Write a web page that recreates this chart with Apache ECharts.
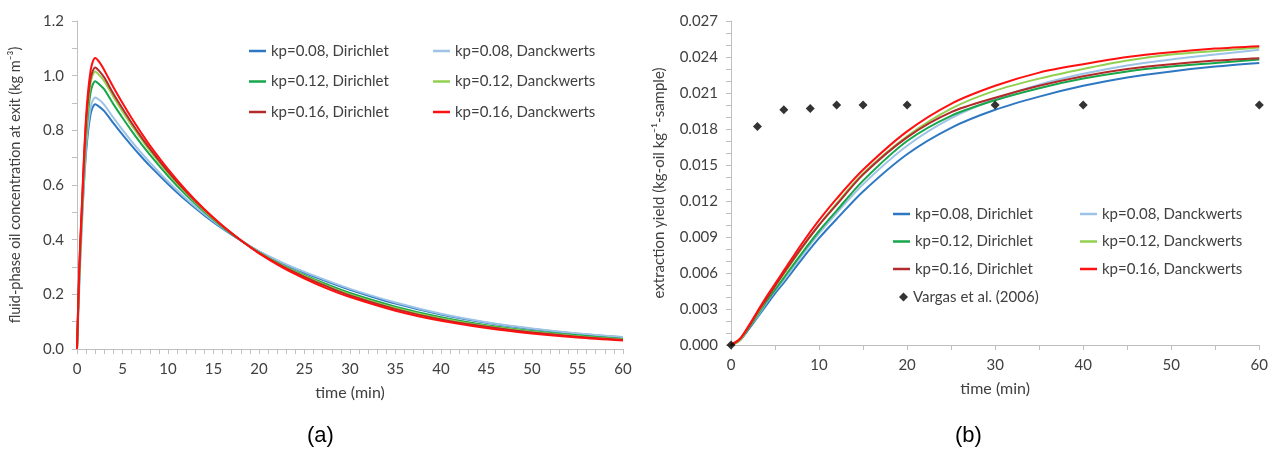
<!DOCTYPE html>
<html>
<head>
<meta charset="utf-8">
<script src="https://cdn.jsdelivr.net/npm/echarts@6/dist/echarts.min.js"></script>
<style>
html,body{margin:0;padding:0;background:#fff;}
#chart{width:1271px;height:453px;}
</style>
</head>
<body>
<div id="chart"></div>
<script>
// ---------- Panel (a): fluid-phase oil concentration at exit ----------
const timeA = [0, 0.25, 0.5, 1, 1.5, 2, 2.5, 3, 4, 5, 6, 7, 8, 10, 12, 14, 16, 18, 20, 22.5, 25, 27.5, 30, 35, 40, 45, 50, 55, 60];
const a_kp008_D  = [0, 0.25, 0.45, 0.72, 0.86, 0.895, 0.885, 0.87, 0.826, 0.784, 0.744, 0.706, 0.670, 0.604, 0.543, 0.489, 0.440, 0.397, 0.357, 0.315, 0.279, 0.247, 0.217, 0.166, 0.126, 0.096, 0.073, 0.056, 0.043];
const a_kp008_Dk = [0, 0.22, 0.42, 0.74, 0.885, 0.92, 0.91, 0.893, 0.846, 0.802, 0.760, 0.720, 0.683, 0.613, 0.550, 0.494, 0.443, 0.398, 0.357, 0.317, 0.282, 0.250, 0.220, 0.170, 0.129, 0.098, 0.075, 0.057, 0.044];
const a_kp012_D  = [0, 0.27, 0.47, 0.78, 0.94, 0.98, 0.967, 0.95, 0.896, 0.846, 0.798, 0.753, 0.711, 0.633, 0.563, 0.501, 0.446, 0.397, 0.354, 0.308, 0.270, 0.236, 0.205, 0.155, 0.116, 0.087, 0.066, 0.050, 0.037];
const a_kp012_Dk = [0, 0.26, 0.46, 0.80, 0.975, 1.015, 1.0, 0.98, 0.923, 0.869, 0.819, 0.771, 0.726, 0.644, 0.571, 0.506, 0.449, 0.398, 0.353, 0.306, 0.267, 0.231, 0.200, 0.150, 0.112, 0.084, 0.063, 0.047, 0.035];
const a_kp016_D  = [0, 0.29, 0.49, 0.83, 0.99, 1.03, 1.015, 0.993, 0.934, 0.880, 0.828, 0.779, 0.733, 0.649, 0.575, 0.509, 0.450, 0.398, 0.352, 0.304, 0.264, 0.228, 0.196, 0.146, 0.108, 0.081, 0.060, 0.045, 0.033];
const a_kp016_Dk = [0, 0.30, 0.50, 0.85, 1.02, 1.065, 1.048, 1.02, 0.958, 0.900, 0.845, 0.794, 0.745, 0.658, 0.580, 0.511, 0.451, 0.398, 0.350, 0.300, 0.258, 0.221, 0.190, 0.140, 0.103, 0.077, 0.057, 0.042, 0.031];

// ---------- Panel (b): extraction yield ----------
const timeB = [0, 1, 2, 3, 4, 5, 6, 8, 10, 12, 15, 20, 25, 30, 35, 40, 45, 50, 55, 60];
const b_kp008_D  = [0, 0.0004, 0.0013, 0.0023, 0.0033, 0.0043, 0.0052, 0.0071, 0.0089, 0.0105, 0.0128, 0.0159, 0.0181, 0.0196, 0.0207, 0.0216, 0.0223, 0.0228, 0.0232, 0.0235];
const b_kp008_Dk = [0, 0.0004, 0.0014, 0.0024, 0.0035, 0.0045, 0.0054, 0.0074, 0.0093, 0.0110, 0.0134, 0.0166, 0.0189, 0.0205, 0.0217, 0.0226, 0.0233, 0.0238, 0.0242, 0.0246];
const b_kp012_D  = [0, 0.0004, 0.0014, 0.0025, 0.0036, 0.0046, 0.0056, 0.0076, 0.0095, 0.0112, 0.0137, 0.0170, 0.0191, 0.0204, 0.0214, 0.0222, 0.0228, 0.0232, 0.0235, 0.0238];
const b_kp012_Dk = [0, 0.0004, 0.0015, 0.0026, 0.0038, 0.0049, 0.0059, 0.0080, 0.0100, 0.0118, 0.0143, 0.0174, 0.0197, 0.0212, 0.0222, 0.0230, 0.0237, 0.0242, 0.0245, 0.0248];
const b_kp016_D  = [0, 0.0005, 0.0015, 0.0027, 0.0038, 0.0049, 0.0060, 0.0081, 0.0100, 0.0117, 0.0142, 0.0173, 0.0194, 0.0206, 0.0216, 0.0224, 0.0230, 0.0234, 0.0237, 0.0239];
const b_kp016_Dk = [0, 0.0005, 0.0016, 0.0028, 0.0040, 0.0051, 0.0062, 0.0084, 0.0104, 0.0122, 0.0146, 0.0178, 0.0201, 0.0216, 0.0227, 0.0234, 0.0240, 0.0244, 0.0247, 0.0249];
const vargasTime  = [0, 3, 6, 9, 12, 15, 20, 30, 40, 60];
const vargasYield = [0, 0.0182, 0.0196, 0.0197, 0.0200, 0.0200, 0.0200, 0.0200, 0.0200, 0.0200];

const seriesNames = ['kp=0.08, Dirichlet', 'kp=0.08, Danckwerts', 'kp=0.12, Dirichlet', 'kp=0.12, Danckwerts', 'kp=0.16, Dirichlet', 'kp=0.16, Danckwerts'];
const vargasName = 'Vargas et al. (2006)';
const colors = ['#2E78C2', '#9DC3E6', '#17A64A', '#92D050', '#B22A2A', '#FF1010'];

const aData = [a_kp008_D, a_kp008_Dk, a_kp012_D, a_kp012_Dk, a_kp016_D, a_kp016_Dk];
const bData = [b_kp008_D, b_kp008_Dk, b_kp012_D, b_kp012_Dk, b_kp016_D, b_kp016_Dk];

const FONT = 'Lato';
const txt = '#404040';
const axisGrey = '#BFBFBF';

function pairs(xs, ys) { return xs.map((x, i) => [x, ys[i]]); }

const series = [];
aData.forEach((d, i) => {
  series.push({
    name: seriesNames[i], type: 'line', xAxisIndex: 0, yAxisIndex: 0,
    data: pairs(timeA, d), symbol: 'none', smooth: 0.3,
    lineStyle: { color: colors[i], width: 2 }, itemStyle: { color: colors[i] }, z: 2 + i
  });
});
bData.forEach((d, i) => {
  series.push({
    name: seriesNames[i], type: 'line', xAxisIndex: 1, yAxisIndex: 1,
    data: pairs(timeB, d), symbol: 'none', smooth: 0.3,
    lineStyle: { color: colors[i], width: 2 }, itemStyle: { color: colors[i] }, z: 2 + i
  });
});
series.push({
  name: vargasName, type: 'scatter', xAxisIndex: 1, yAxisIndex: 1,
  data: pairs(vargasTime, vargasYield), symbol: 'diamond', symbolSize: 9,
  itemStyle: { color: '#000' }, z: 20
});

function legendCol(names, left, top, gap) {
  return {
    data: names, left: left, top: top, orient: 'vertical',
    icon: 'rect', itemWidth: 17, itemHeight: 2.5, itemGap: gap,
    textStyle: { fontFamily: FONT, fontSize: 15, lineHeight: 15, color: txt },
    selectedMode: false
  };
}

const option = {
  animation: false,
  backgroundColor: '#fff',
  grid: [
    { left: 77, top: 21, width: 546, height: 328 },
    { left: 731, top: 21, width: 534, height: 324 }
  ],
  xAxis: [
    {
      type: 'value', gridIndex: 0, min: 0, max: 60, interval: 5,
      name: 'time (min)', nameLocation: 'middle', nameGap: 36,
      nameTextStyle: { fontFamily: FONT, fontSize: 16, color: txt },
      axisLine: { lineStyle: { color: axisGrey } },
      axisTick: { show: true, length: 5, lineStyle: { color: axisGrey } },
      minorTick: { show: true, splitNumber: 5, length: 5, lineStyle: { color: axisGrey } },
      axisLabel: { fontFamily: FONT, fontSize: 15, color: txt, margin: 13 },
      splitLine: { show: false }
    },
    {
      type: 'value', gridIndex: 1, min: 0, max: 60, interval: 10,
      name: 'time (min)', nameLocation: 'middle', nameGap: 36,
      nameTextStyle: { fontFamily: FONT, fontSize: 16, color: txt },
      axisLine: { lineStyle: { color: axisGrey } },
      axisTick: { show: true, length: 5, lineStyle: { color: axisGrey } },
      minorTick: { show: true, splitNumber: 2, length: 5, lineStyle: { color: axisGrey } },
      axisLabel: { fontFamily: FONT, fontSize: 15, color: txt, margin: 13 },
      splitLine: { show: false }
    }
  ],
  yAxis: [
    {
      type: 'value', gridIndex: 0, min: 0, max: 1.2, interval: 0.2,
      name: 'fluid-phase oil concentration at exit (kg m\u207B\u00B3)', nameLocation: 'middle', nameGap: 54,
      nameTextStyle: { fontFamily: FONT, fontSize: 14.5, color: txt },
      axisLine: { show: true, lineStyle: { color: axisGrey } },
      axisTick: { show: true, length: 5, lineStyle: { color: axisGrey } },
      minorTick: { show: true, splitNumber: 2, length: 5, lineStyle: { color: axisGrey } },
      axisLabel: { fontFamily: FONT, fontSize: 15, color: txt, margin: 13, formatter: v => v.toFixed(1) },
      splitLine: { show: false }
    },
    {
      type: 'value', gridIndex: 1, min: 0, max: 0.027, interval: 0.003,
      name: 'extraction yield (kg-oil kg\u207B\u00B9-sample)', nameLocation: 'middle', nameGap: 64,
      nameTextStyle: { fontFamily: FONT, fontSize: 15, color: txt },
      axisLine: { show: true, lineStyle: { color: axisGrey } },
      axisTick: { show: true, length: 5, lineStyle: { color: axisGrey } },
      minorTick: { show: true, splitNumber: 3, length: 5, lineStyle: { color: axisGrey } },
      axisLabel: { fontFamily: FONT, fontSize: 15, color: txt, margin: 13, formatter: v => v.toFixed(3) },
      splitLine: { show: false }
    }
  ],
  legend: [
    legendCol([seriesNames[0], seriesNames[2], seriesNames[4]], 244, 38.5, 15.5),
    legendCol([seriesNames[1], seriesNames[3], seriesNames[5]], 428, 38.5, 15.5),
    legendCol([seriesNames[0], seriesNames[2], seriesNames[4]], 888, 201.5, 12.5),
    legendCol([seriesNames[1], seriesNames[3], seriesNames[5]], 1075, 201.5, 12.5),
    {
      data: [vargasName], left: 894, top: 284.5, icon: 'diamond', itemWidth: 9, itemHeight: 9,
      textStyle: { fontFamily: FONT, fontSize: 15, lineHeight: 15, color: txt }, selectedMode: false
    }
  ],
  graphic: [
    { type: 'text', left: 307, top: 425, style: { text: '(a)', font: '22px "Liberation Sans", Arial, sans-serif', fill: '#000' } },
    { type: 'text', left: 955, top: 425, style: { text: '(b)', font: '22px "Liberation Sans", Arial, sans-serif', fill: '#000' } }
  ],
  series: series
};

const chart = echarts.init(document.getElementById('chart'), null, { renderer: 'canvas' });
chart.setOption(option);
</script>
</body>
</html>
